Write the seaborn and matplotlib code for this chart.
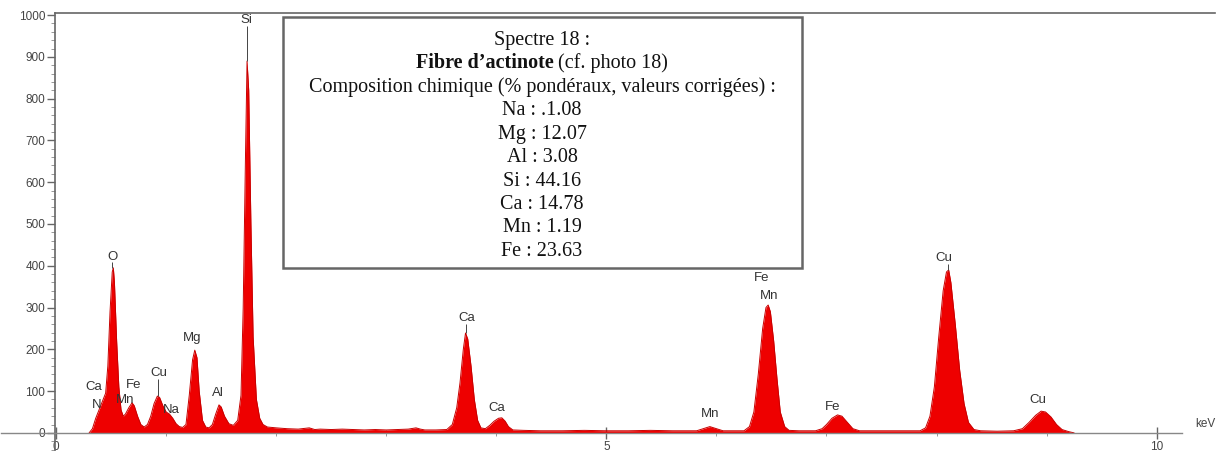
import numpy as np
import pandas as pd
import matplotlib
matplotlib.use('Agg')
import matplotlib.pyplot as plt
from matplotlib.patches import Rectangle
from matplotlib.ticker import MultipleLocator
import seaborn as sns

# spectrum (keV, counts)
energy = [0.30, 0.33, 0.36, 0.39, 0.42, 0.45, 0.47, 0.49, 0.51, 0.52, 0.53, 0.55, 0.57, 0.59,
          0.61, 0.63, 0.66, 0.69, 0.71, 0.74, 0.77, 0.80, 0.83, 0.86, 0.89, 0.92, 0.94, 0.97,
          1.00, 1.03, 1.06, 1.09, 1.12, 1.15, 1.18, 1.21, 1.24, 1.26, 1.28, 1.30, 1.33, 1.36,
          1.39, 1.42, 1.45, 1.48, 1.50, 1.53, 1.57, 1.61, 1.65, 1.68, 1.70, 1.72, 1.735, 1.75,
          1.77, 1.79, 1.82, 1.85, 1.88, 1.92, 2.00, 2.10, 2.20, 2.30, 2.35, 2.40, 2.50, 2.60,
          2.70, 2.80, 2.90, 3.00, 3.10, 3.20, 3.27, 3.31, 3.35, 3.45, 3.55, 3.60, 3.64, 3.67,
          3.70, 3.72, 3.74, 3.77, 3.80, 3.83, 3.86, 3.90, 3.94, 3.98, 4.02, 4.05, 4.08, 4.11,
          4.15, 4.25, 4.40, 4.60, 4.80, 5.00, 5.20, 5.40, 5.60, 5.75, 5.82, 5.88, 5.94, 6.00,
          6.06, 6.15, 6.25, 6.30, 6.34, 6.38, 6.42, 6.45, 6.47, 6.49, 6.52, 6.55, 6.58, 6.62,
          6.66, 6.75, 6.90, 6.96, 7.00, 7.05, 7.10, 7.14, 7.19, 7.24, 7.30, 7.45, 7.60, 7.75,
          7.85, 7.90, 7.94, 7.98, 8.02, 8.06, 8.09, 8.11, 8.13, 8.17, 8.21, 8.25, 8.29, 8.34,
          8.40, 8.55, 8.70, 8.78, 8.84, 8.90, 8.95, 8.99, 9.04, 9.09, 9.14, 9.20, 9.25]
counts = [0, 10, 35, 55, 75, 95, 160, 290, 385, 395, 360, 220, 110, 55,
          40, 45, 60, 72, 65, 40, 20, 14, 20, 40, 70, 88, 85, 65,
          50, 45, 35, 22, 15, 13, 20, 90, 175, 198, 180, 100, 30, 14,
          12, 20, 45, 67, 62, 40, 22, 18, 30, 90, 300, 650, 890, 820,
          500, 230, 80, 35, 20, 14, 12, 10, 9, 12, 8, 9, 8, 9,
          8, 7, 8, 7, 8, 9, 12, 9, 7, 7, 8, 20, 60, 120,
          200, 239, 225, 160, 80, 30, 12, 10, 18, 28, 35, 36, 28, 15,
          7, 6, 5, 5, 6, 5, 5, 6, 5, 5, 5, 10, 15, 10,
          5, 5, 5, 15, 50, 140, 250, 300, 306, 290, 220, 130, 50, 15,
          6, 5, 5, 10, 20, 35, 43, 40, 25, 10, 5, 5, 5, 5,
          5, 12, 40, 110, 230, 340, 385, 390, 360, 260, 150, 70, 25, 8,
          5, 4, 5, 10, 25, 42, 52, 50, 38, 20, 8, 3, 0]

# peak labels
label_text = ['Ca', 'N', 'O', 'Mn', 'Fe', 'Cu', 'Na', 'Mg', 'Al', 'Si', 'Ca', 'Ca',
              'Mn', 'Fe', 'Mn', 'Fe', 'Cu', 'Cu']
label_kev = [0.34, 0.37, 0.51, 0.63, 0.70, 0.93, 1.05, 1.24, 1.47, 1.73, 3.73, 4.00,
             5.94, 6.41, 6.48, 7.06, 8.07, 8.92]
label_cnt = [110, 67, 421, 79, 115, 143, 55, 227, 96, 988, 275, 60,
             45, 371, 328, 62, 419, 79]

# thin marker lines from label to peak
marker_kev = [0.51, 0.93, 1.735, 3.72, 8.10]
marker_top = [408, 130, 975, 260, 405]
marker_bot = [395, 88, 890, 239, 390]

yticks = [0, 100, 200, 300, 400, 500, 600, 700, 800, 900, 1000]
xticks = [0, 5, 10]

box_lines = ['Spectre 18 :', None, 'Composition chimique (% pondéraux, valeurs corrigées) :',
             'Na : .1.08', 'Mg : 12.07', 'Al : 3.08', 'Si : 44.16', 'Ca : 14.78',
             'Mn : 1.19', 'Fe : 23.63']

sns.set_theme(style='white')
plt.rcParams['font.family'] = ['Liberation Sans', 'DejaVu Sans']

W, H = 1221, 457
fig = plt.figure(figsize=(W / 100, H / 100), dpi=100)
ax = fig.add_axes([55 / W, (H - 450) / H, (1215 - 55) / W, (450 - 13) / H])

df = pd.DataFrame({'keV': energy, 'counts': counts})
ax.fill_between(df['keV'], df['counts'], 0, color='#ee0000', lw=0)
sns.lineplot(data=df, x='keV', y='counts', ax=ax, color='#c80000', lw=0.7)

ax.set_xlim(-0.01, 10.53)
ax.set_ylim(-41, 1005)
ax.set_xlabel('')
ax.set_ylabel('')

for s in ['left', 'top']:
    ax.spines[s].set_color('#666666')
    ax.spines[s].set_linewidth(1.2)
ax.spines['right'].set_visible(False)
ax.spines['bottom'].set_position(('data', 0))
ax.spines['bottom'].set_bounds(-0.5, 10.23)
ax.spines['bottom'].set_color('#888888')
ax.spines['bottom'].set_linewidth(1.0)

ax.set_yticks(yticks)
ax.set_xticks(xticks)
ax.yaxis.set_minor_locator(MultipleLocator(20))
ax.xaxis.set_minor_locator(MultipleLocator(1))
ax.tick_params(axis='y', which='major', left=True, length=6, width=1, color='#666666',
               labelsize=8.5, labelcolor='#444444', pad=1)
ax.tick_params(axis='y', which='minor', left=True, length=3, width=0.6, color='#888888')
ax.tick_params(axis='x', which='major', bottom=True, direction='inout', length=8, width=1,
               color='#666666', labelsize=8.5, labelcolor='#444444', pad=2)
ax.tick_params(axis='x', which='minor', bottom=True, direction='inout', length=4, width=0.6,
               color='#888888')

for t, e, c in zip(label_text, label_kev, label_cnt):
    ax.text(e, c, t, ha='center', va='center', fontsize=9.5, color='#333333')
ax.text(10.44, 22, 'keV', ha='center', va='center', fontsize=8.5, color='#444444')

ax.vlines(marker_kev, marker_bot, marker_top, color='#444444', lw=0.7)

# composition box
x0, x1, y0, y1 = 283, 802, 17, 268
fig.add_artist(Rectangle((x0 / W, 1 - y1 / H), (x1 - x0) / W, (y1 - y0) / H,
                         transform=fig.transFigure, facecolor='white',
                         edgecolor='#666666', lw=1.8, zorder=5))
xc = 542 / W
serif = ['Liberation Serif', 'DejaVu Serif']
fs = 14.5
renderer = fig.canvas.get_renderer()
for i, line in enumerate(box_lines):
    yy = 1 - (40 + 23.5 * i) / H
    if line is not None:
        fig.text(xc, yy, line, ha='center', va='center', fontsize=fs, family=serif,
                 color='#111111', zorder=6)
    else:
        tb = fig.text(0, yy, 'Fibre d’actinote', ha='left', va='center', fontsize=fs,
                      family=serif, weight='bold', color='#111111', zorder=6)
        tn = fig.text(0, yy, ' (cf. photo 18)', ha='left', va='center', fontsize=fs,
                      family=serif, color='#111111', zorder=6)
        wb = tb.get_window_extent(renderer).width / W
        wn = tn.get_window_extent(renderer).width / W
        start = xc - (wb + wn) / 2
        tb.set_x(start)
        tn.set_x(start + wb)

fig.savefig('out.png', dpi=100, facecolor='white')
